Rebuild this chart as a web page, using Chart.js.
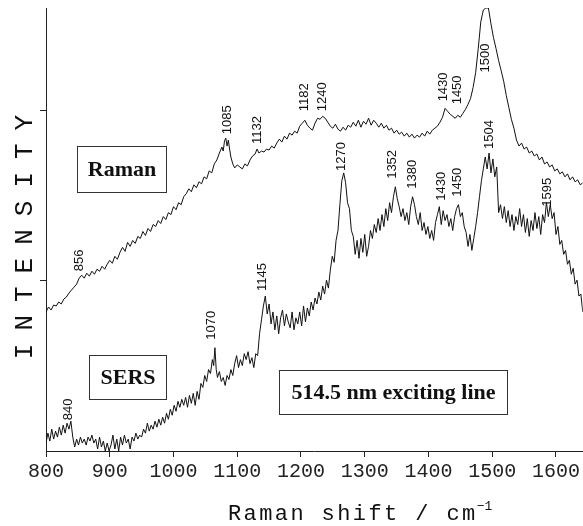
<!DOCTYPE html>
<html>
<head>
<meta charset="utf-8">
<script src="https://cdn.jsdelivr.net/npm/chart.js@4.4.1/dist/chart.umd.min.js"></script>
<style>
  body { margin: 0; background: #fff; }
  #chart { display: block; }
</style>
</head>
<body>
<canvas id="chart" width="583" height="526"></canvas>
<script>
// x ticks (Raman shift, cm-1)
const xTicks = [800, 900, 1000, 1100, 1200, 1300, 1400, 1500, 1600];
const yTicks = [171.5, 343];

// Raman spectrum (arbitrary units)
const ramanShift = [800,804,808,812,816,820,824,828,832,836,840,844,848,852,856,860,864,868,872,876,880,884,888,892,896,900,904,908,912,916,920,924,928,932,936,940,944,948,952,956,960,964,968,972,976,980,984,988,992,996,1000,1004,1008,1012,1016,1020,1024,1028,1032,1036,1040,1044,1048,1052,1056,1060,1064,1068,1072,1076,1078,1080,1082,1084,1086,1088,1090,1093,1096,1100,1104,1108,1112,1116,1120,1124,1128,1131,1134,1138,1142,1146,1150,1154,1158,1162,1166,1170,1174,1178,1182,1186,1190,1194,1198,1202,1206,1210,1214,1218,1222,1226,1230,1234,1238,1242,1246,1250,1254,1258,1262,1266,1270,1274,1278,1282,1286,1290,1294,1298,1302,1306,1310,1314,1318,1322,1326,1330,1334,1338,1342,1346,1350,1354,1358,1362,1366,1370,1374,1378,1382,1386,1390,1394,1398,1402,1406,1410,1414,1418,1422,1426,1430,1434,1438,1442,1446,1450,1454,1458,1462,1466,1470,1474,1478,1482,1486,1490,1494,1498,1502,1506,1510,1514,1518,1522,1526,1530,1534,1538,1542,1546,1550,1554,1558,1562,1566,1570,1574,1578,1582,1586,1590,1594,1598,1602,1606,1610,1614,1618,1622,1626,1630,1634,1638,1642];
const ramanIntensity = [140,145,142,147,146,150,148,153,155,159,162,165,168,174,177,174,179,176,181,178,183,181,186,183,188,192,189,196,193,200,205,201,210,206,212,209,216,214,221,217,224,221,228,226,232,229,236,233,240,238,246,243,250,248,256,259,264,261,268,265,271,269,276,274,282,280,289,293,300,306,302,312,315,307,313,304,296,289,285,288,286,284,289,287,293,297,299,304,300,302,301,304,303,307,305,310,314,311,317,314,320,318,322,320,327,330,333,328,325,323,330,335,334,337,335,331,327,325,329,324,322,326,323,328,326,331,327,333,326,332,329,335,328,333,330,326,330,325,328,323,325,320,323,319,321,317,320,316,319,315,318,316,320,317,322,319,323,325,327,331,336,345,342,339,337,335,338,336,340,344,349,355,366,381,405,432,444,446,446,430,416,405,393,383,372,358,346,334,325,313,307,310,304,306,300,302,297,299,293,296,289,291,286,288,282,284,279,281,276,279,273,276,271,273,268,270];

// SERS spectrum
const sersShift = [800,803,806,809,812,815,818,821,824,827,830,833,836,839,842,845,848,851,854,857,860,863,866,869,872,875,878,881,884,887,890,893,896,899,902,905,908,911,914,917,920,923,926,929,932,935,938,941,944,947,950,953,956,959,962,965,968,971,974,977,980,983,986,989,992,995,998,1001,1004,1007,1010,1013,1016,1019,1022,1025,1028,1031,1034,1037,1040,1043,1046,1049,1052,1055,1058,1061,1063,1065,1067,1069,1072,1075,1078,1081,1084,1087,1090,1093,1096,1099,1102,1105,1108,1111,1114,1117,1120,1123,1126,1129,1132,1135,1138,1141,1144,1147,1150,1153,1156,1159,1162,1165,1168,1171,1174,1177,1180,1183,1186,1189,1192,1195,1198,1201,1204,1207,1210,1213,1216,1219,1222,1225,1228,1231,1234,1237,1240,1243,1246,1249,1252,1255,1258,1261,1264,1267,1270,1273,1276,1279,1282,1285,1288,1291,1294,1297,1300,1303,1306,1309,1312,1315,1318,1321,1324,1327,1330,1333,1336,1339,1342,1345,1348,1351,1354,1357,1360,1363,1366,1369,1372,1375,1378,1381,1384,1387,1390,1393,1396,1399,1402,1405,1408,1411,1414,1417,1420,1423,1426,1429,1432,1435,1438,1441,1444,1447,1450,1453,1456,1459,1462,1465,1468,1471,1474,1477,1480,1483,1486,1489,1492,1495,1498,1501,1504,1507,1510,1513,1516,1519,1522,1525,1528,1531,1534,1537,1540,1543,1546,1549,1552,1555,1558,1561,1564,1567,1570,1573,1576,1579,1582,1585,1588,1591,1594,1597,1600,1603,1606,1609,1612,1615,1618,1621,1624,1627,1630,1633,1636,1639,1642];
const sersIntensity = [8,18,10,22,12,20,14,24,16,26,18,28,22,30,14,4,12,6,14,8,12,6,14,10,16,8,12,2,14,4,10,0,8,0,6,16,2,12,0,14,6,16,8,12,2,14,10,18,12,16,14,22,18,28,20,26,22,30,24,32,26,34,28,38,32,42,36,46,40,50,44,52,46,54,44,56,48,58,46,60,52,68,64,76,70,82,78,92,86,104,82,74,80,70,74,66,76,72,82,76,88,96,84,92,86,98,92,100,88,94,84,98,96,118,132,146,156,138,148,128,140,122,136,118,134,142,126,138,130,124,140,122,134,128,140,126,146,130,144,136,150,142,154,148,160,152,166,158,172,164,182,196,190,212,222,248,272,280,270,250,244,222,216,198,212,194,214,200,218,196,206,222,214,228,220,234,222,238,226,244,232,250,240,256,266,254,246,236,244,232,240,228,246,256,248,236,228,240,222,230,218,226,214,222,212,230,238,246,228,242,232,238,226,234,222,236,244,248,236,240,226,220,206,218,202,214,226,240,256,272,284,296,284,300,280,294,276,286,240,248,234,246,230,242,226,238,222,236,228,244,226,238,220,234,216,232,222,240,224,236,218,238,230,250,236,248,234,240,218,226,208,212,198,202,188,192,178,184,168,172,156,158,140];

// peak labels: text, x and y (bottom of text) in data units
const ramanPeakText = ['856', '1085', '1132', '1182', '1240', '1430', '1450', '1500'];
const ramanPeakX = [852, 1084, 1131, 1206, 1233, 1423, 1446, 1489];
const ramanPeakY = [181, 319, 309, 342, 342, 352, 349, 381];
const sersPeakText = ['840', '1070', '1145', '1270', '1352', '1380', '1430', '1450', '1504', '1595'];
const sersPeakX = [835, 1060, 1139, 1264, 1344, 1374, 1421, 1446, 1496, 1586];
const sersPeakY = [31, 112, 161, 282, 274, 264, 252, 256, 304, 246];

// boxed captions: text, x range, y range in data units
const boxText = ['Raman', 'SERS', '514.5 nm exciting line'];
const boxX = [[849, 988], [867, 988], [1165, 1523]];
const boxY = [[261, 307], [52, 97], [37, 82]];

const toXY = (xs, ys) => xs.map((v, i) => ({ x: v, y: ys[i] }));

const overlay = {
  id: 'overlay',
  afterDraw(chart) {
    const { ctx } = chart;
    const x = chart.scales.x;
    const y = chart.scales.y;
    ctx.save();

    // peak labels, rotated
    ctx.fillStyle = '#111';
    ctx.font = '13px "Liberation Sans", Arial, sans-serif';
    ctx.textAlign = 'left';
    ctx.textBaseline = 'middle';
    const drawPeaks = (texts, xs, ys) => {
      texts.forEach((t, i) => {
        ctx.save();
        ctx.translate(x.getPixelForValue(xs[i]), y.getPixelForValue(ys[i]));
        ctx.rotate(-Math.PI / 2);
        ctx.fillText(t, 0, 0);
        ctx.restore();
      });
    };
    drawPeaks(ramanPeakText, ramanPeakX, ramanPeakY);
    drawPeaks(sersPeakText, sersPeakX, sersPeakY);

    // boxes
    ctx.font = 'bold 22px "Liberation Serif", "Times New Roman", serif';
    ctx.textAlign = 'center';
    ctx.textBaseline = 'middle';
    ctx.strokeStyle = '#333';
    ctx.lineWidth = 1;
    boxText.forEach((t, i) => {
      const l = Math.round(x.getPixelForValue(boxX[i][0])) + 0.5;
      const r = Math.round(x.getPixelForValue(boxX[i][1])) + 0.5;
      const top = Math.round(y.getPixelForValue(boxY[i][1])) + 0.5;
      const bot = Math.round(y.getPixelForValue(boxY[i][0])) + 0.5;
      ctx.fillStyle = '#fff';
      ctx.fillRect(l, top, r - l, bot - top);
      ctx.strokeRect(l, top, r - l, bot - top);
      ctx.fillStyle = '#111';
      ctx.fillText(t, (l + r) / 2, (top + bot) / 2 + 1);
    });

    // y title
    ctx.save();
    ctx.font = '26px "Liberation Mono", "Courier New", monospace';
    ctx.letterSpacing = '13px';
    ctx.textAlign = 'center';
    ctx.textBaseline = 'alphabetic';
    ctx.translate(32, (y.top + y.bottom) / 2 + 7);
    ctx.rotate(-Math.PI / 2);
    ctx.fillText('INTENSITY', 6, 0);
    ctx.restore();

    // x title
    ctx.save();
    ctx.font = '22px "Liberation Mono", "Courier New", monospace';
    ctx.letterSpacing = '2.4px';
    ctx.textAlign = 'left';
    ctx.textBaseline = 'alphabetic';
    const main = 'Raman shift / cm';
    ctx.fillText(main, 228, 520);
    const w = ctx.measureText(main).width;
    ctx.font = '13px "Liberation Mono", "Courier New", monospace';
    ctx.letterSpacing = '0px';
    ctx.fillText('\u22121', 228 + w - 1, 510);
    ctx.restore();

    ctx.restore();
  }
};

new Chart(document.getElementById('chart'), {
  type: 'line',
  data: {
    datasets: [
      {
        label: 'Raman',
        data: toXY(ramanShift, ramanIntensity),
        borderColor: '#111',
        borderWidth: 1,
        pointRadius: 0,
        tension: 0,
      },
      {
        label: 'SERS',
        data: toXY(sersShift, sersIntensity),
        borderColor: '#111',
        borderWidth: 1,
        pointRadius: 0,
        tension: 0,
      },
    ],
  },
  options: {
    responsive: false,
    animation: false,
    devicePixelRatio: 1,
    layout: { padding: { left: 40, top: 8, right: 0, bottom: 39 } },
    plugins: {
      legend: { display: false },
      tooltip: { enabled: false },
    },
    scales: {
      x: {
        type: 'linear',
        min: 800,
        max: 1642,
        afterBuildTicks: (axis) => { axis.ticks = xTicks.map((v) => ({ value: v })); },
        border: { display: true, color: '#222', width: 1 },
        grid: { drawOnChartArea: false, drawTicks: true, tickLength: 6, color: '#222' },
        ticks: {
          color: '#222',
          padding: 3,
          maxRotation: 0,
          font: { family: '"Liberation Mono", "Courier New", monospace', size: 20 },
          callback: (v) => String(v),
        },
      },
      y: {
        type: 'linear',
        min: 0,
        max: 446,
        afterBuildTicks: (axis) => { axis.ticks = yTicks.map((v) => ({ value: v })); },
        border: { display: true, color: '#222', width: 1 },
        grid: { drawOnChartArea: false, drawTicks: true, tickLength: 6, color: '#222' },
        ticks: { display: false },
      },
    },
  },
  plugins: [overlay],
});
</script>
</body>
</html>
